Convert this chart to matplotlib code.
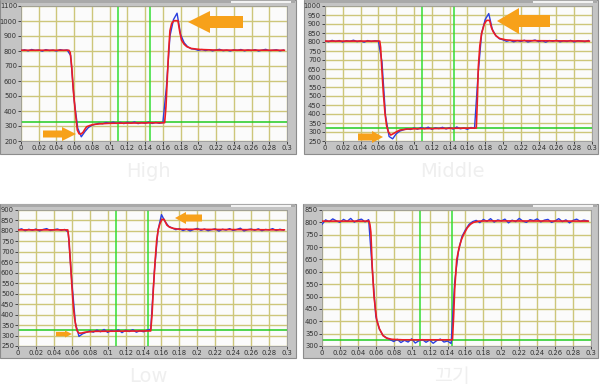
import numpy as np
import matplotlib
matplotlib.use('Agg')
import matplotlib.pyplot as plt
from matplotlib.patches import Rectangle, Polygon

# --------------------------
# Data
# --------------------------
captions = ['High', 'Middle', 'Low', '끄기']
y_limits = [(200, 1100), (250, 1000), (250, 900), (300, 850)]
y_steps = [100, 50, 50, 50]

green_t = [0.109, 0.1455]
green_level = 325
blue_dt = 0.004

# measured (blue), one sample every 4 ms
blue_high = [803, 808, 801, 810, 804, 807, 799, 809, 803, 806, 800, 809, 804, 807,
             770, 470, 285, 228, 262, 290, 305, 312, 318, 315,
             323, 318, 326, 317, 324, 316, 325, 319, 327, 316, 323, 318, 326, 317, 324, 318, 322,
             560, 900, 1010, 1052, 910, 855, 828, 815, 812, 804, 810,
             803, 809, 801, 807, 811, 802, 806, 800, 808, 804, 810, 801, 807, 803, 809, 800,
             806, 811, 802, 805, 808, 801, 806]
blue_middle = [806, 801, 809, 803, 808, 800, 807, 804, 810, 802, 806, 799, 808, 803, 807,
               805, 690, 390, 275, 262, 290, 305, 312, 318, 314,
               322, 316, 325, 318, 327, 315, 323, 319, 326, 317, 324, 316, 328, 318, 322, 315, 325, 320,
               620, 850, 925, 958, 870, 835, 818, 812,
               804, 809, 801, 808, 803, 810, 800, 806, 811, 802, 807, 799, 808, 804, 810, 801,
               806, 803, 809, 800, 807, 805, 802, 808]
blue_low = [805, 810, 801, 808, 803, 809, 800, 807, 811, 802, 806, 809, 803, 807,
            795, 560, 360, 296, 308, 315,
            322, 316, 326, 318, 329, 315, 324, 320, 327, 314, 325, 319, 328, 316, 323, 318, 326,
            330, 600, 800, 878, 845, 822, 814,
            806, 811, 802, 808, 800, 807, 812, 803, 809, 801, 806, 810, 799, 808, 804, 811,
            802, 807, 813, 800, 806, 809, 803, 810, 801, 807, 805, 811, 802, 808, 804]
blue_off = [792, 810, 803, 814, 806, 800, 812, 804, 816, 801, 809, 813, 802, 811,
            615, 420, 368, 343, 333, 326,
            318, 327, 314, 323, 316, 329, 312, 321, 326, 315, 324, 311, 322, 328, 316, 320,
            310, 560, 680, 742, 770, 792, 803,
            808, 799, 812, 804, 815, 801, 810, 806, 813, 798, 809, 803, 816, 805, 800, 811,
            807, 814, 802, 809, 812, 800, 806, 815, 803, 810, 798, 808, 813, 804, 809, 806]

# model (red)
red_high_t = [0, 0.054, 0.0555, 0.0572, 0.059, 0.061, 0.0635, 0.0655, 0.0675, 0.070, 0.072,
              0.074, 0.078, 0.0816, 0.090, 0.100, 0.162, 0.1635, 0.165, 0.1665, 0.168, 0.170,
              0.1725, 0.1770, 0.179, 0.181, 0.184, 0.187, 0.192, 0.2019, 0.220, 0.297]
red_high_v = [805, 805, 790, 695, 540, 407, 273, 248, 246, 258, 278,
              295, 304, 310, 315, 318, 322, 430, 620, 800, 936, 985,
              1002, 1002, 930, 873, 845, 829, 817, 810, 806, 805]
red_middle_t = [0, 0.0615, 0.0625, 0.0637, 0.0655, 0.0674, 0.0692, 0.0711, 0.0738, 0.0765,
                0.0806, 0.0843, 0.092, 0.100, 0.1700, 0.1712, 0.1723, 0.174, 0.176, 0.179,
                0.1815, 0.1850, 0.187, 0.189, 0.192, 0.196, 0.203, 0.212, 0.297]
red_middle_v = [805, 805, 770, 663, 520, 404, 335, 302, 283, 290,
                302, 311, 316, 318, 322, 480, 663, 780, 848, 900,
                920, 920, 880, 857, 835, 820, 812, 808, 805]
red_low_t = [0, 0.0555, 0.0568, 0.0588, 0.0602, 0.0617, 0.0632, 0.0647, 0.066, 0.068, 0.071,
             0.075, 0.085, 0.148, 0.1495, 0.1509, 0.1528, 0.1547, 0.1565, 0.1584, 0.1605,
             0.1630, 0.166, 0.169, 0.1733, 0.180, 0.297]
red_low_v = [805, 805, 760, 629, 530, 437, 380, 342, 322, 311, 312,
             316, 320, 322, 400, 518, 650, 757, 808, 836, 855,
             855, 828, 818, 812, 808, 805]
red_off_t = [0, 0.0525, 0.0535, 0.0545, 0.056, 0.058, 0.061, 0.064, 0.068, 0.072, 0.078,
             0.090, 0.1455, 0.1468, 0.148, 0.1502, 0.153, 0.1555, 0.1577, 0.162, 0.1655,
             0.1689, 0.175, 0.185, 0.297]
red_off_v = [805, 805, 790, 760, 620, 500, 405, 370, 342, 332, 327,
             325, 325, 420, 530, 648, 700, 730, 749, 778, 792,
             800, 805, 806, 805]

blue_series = [blue_high, blue_middle, blue_low, blue_off]
red_series = [(red_high_t, red_high_v), (red_middle_t, red_middle_v),
              (red_low_t, red_low_v), (red_off_t, red_off_v)]

# --------------------------
# layout (pixels, top-left origin)
# --------------------------
W, H = 600, 385
frames = [(0, 0, 296, 154), (304, 0, 598, 154), (0, 204, 296, 358), (303, 204, 598, 358)]
plots = [(21, 6, 287, 141), (325, 6, 592, 141), (18, 210, 287, 346), (322, 210, 591, 346)]
caption_pos = [(148, 172), (452, 172), (148, 376), (452, 376)]

# orange arrows: (tip x, tip y, length, shaft half height, head half height, head length, direction)
arrows = [
    (188, 22, 55, 6, 11, 22, -1), (76, 134, 33, 3.5, 7, 14, 1),
    (497, 21, 53, 6, 13, 22, -1), (383, 137, 25, 3.5, 6, 11, 1),
    (175, 218, 27, 3.5, 6, 11, -1), (72, 334, 16, 2.2, 3.5, 7, 1),
]

fig = plt.figure(figsize=(W / 100, H / 100), dpi=100)
fig.patch.set_facecolor('white')


def px(x, y):
    return x / W, 1 - y / H


for (x0, y0, x1, y1) in frames:
    fig.patches.append(Rectangle(px(x0, y1), (x1 - x0) / W, (y1 - y0) / H,
                                 transform=fig.transFigure, facecolor='#c4c4c4',
                                 edgecolor='#8c8c8c', linewidth=0.8, zorder=-2))
    # top strip like the original window
    fig.patches.append(Rectangle(px(x0 + 1, y0 + 3), (x1 - x0 - 2) / W, 3 / H,
                                 transform=fig.transFigure, facecolor='#a9a9a9',
                                 edgecolor='none', zorder=-1))
    fig.patches.append(Rectangle(px(x1 - 65, y0 + 3), 60 / W, 2 / H,
                                 transform=fig.transFigure, facecolor='#f2f2f2',
                                 edgecolor='none', zorder=-1))

for k in range(4):
    x0, y0, x1, y1 = plots[k]
    l, b = px(x0, y1)
    ax = fig.add_axes([l, b, (x1 - x0) / W, (y1 - y0) / H], zorder=2)
    ax.set_facecolor('#fbfbfb')
    lo, hi = y_limits[k]
    ax.set_xlim(0, 0.3)
    ax.set_ylim(lo, hi)

    xt = np.arange(0, 0.3001, 0.02)
    ax.set_xticks(xt)
    ax.set_xticklabels(['%g' % round(v, 2) for v in xt])
    ax.set_yticks(np.arange(lo, hi + 1, y_steps[k]))
    ax.tick_params(labelsize=4.9, colors='#303030', length=2, width=0.6, pad=0.8)
    ax.grid(True, color='#cdc67a', linewidth=1.0)
    ax.set_axisbelow(True)
    for s in ax.spines.values():
        s.set_color('#9a9a9a')
        s.set_linewidth(0.6)

    t_blue = np.arange(len(blue_series[k])) * blue_dt
    ax.plot(t_blue, blue_series[k], color='#2a3fe0', linewidth=1.0, zorder=3)
    rt, rv = red_series[k]
    ax.plot(rt, rv, color='#ec1c24', linewidth=1.2, zorder=4)

    for gt in green_t:
        ax.axvline(gt, color='#33dd33', linewidth=1.1, zorder=2)
    ax.axhline(green_level, color='#22cc22', linewidth=1.1, zorder=2)

    cx, cy = caption_pos[k]
    fam = ['Noto Sans CJK KR', 'DejaVu Sans'] if k == 3 else ['DejaVu Sans']
    fig.text(cx / W, 1 - cy / H, captions[k], ha='center', va='center',
             fontsize=14, color='#efefef', family=fam)

for (tx, ty, length, sh, hh, hl, d) in arrows:
    pts = [(tx, ty), (tx - d * hl, ty - hh), (tx - d * hl, ty - sh),
           (tx - d * length, ty - sh), (tx - d * length, ty + sh),
           (tx - d * hl, ty + sh), (tx - d * hl, ty + hh)]
    fig.patches.append(Polygon([px(x, y) for x, y in pts], closed=True,
                               transform=fig.transFigure, facecolor='#f7a11a',
                               edgecolor='none', zorder=10))

fig.savefig('out.png', dpi=100)
